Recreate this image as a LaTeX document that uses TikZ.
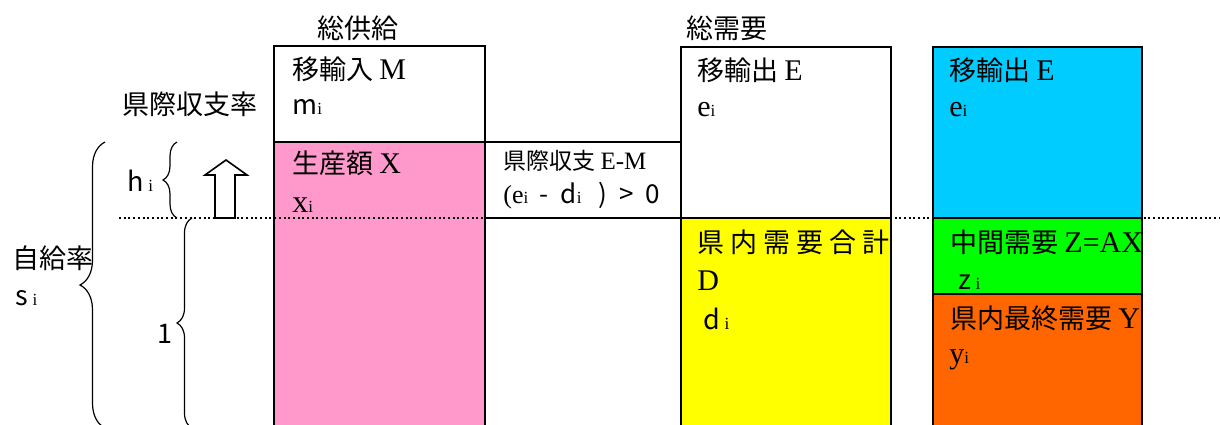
\documentclass[tikz,border=0pt]{standalone}
\usepackage{fontspec}
\setmainfont{Liberation Serif}
\newfontfamily\jp{Noto Sans CJK JP}
\usetikzlibrary{decorations.pathreplacing}

\definecolor{prodpink}{HTML}{FF99CC}
\definecolor{domyellow}{HTML}{FFFF00}
\definecolor{expcyan}{HTML}{00CCFF}
\definecolor{midgreen}{HTML}{00FF00}
\definecolor{finorange}{HTML}{FF6600}

\newcommand{\sub}[1]{{\rmfamily\fontsize{8.5}{9}\selectfont #1}}
\newcommand{\lat}[1]{{\rmfamily\fontsize{15}{16}\selectfont #1}}

\tikzset{
  lbl/.style={anchor=west, inner sep=0pt, font=\jp\fontsize{13.5}{16}\selectfont},
  smalllbl/.style={anchor=west, inner sep=0pt, font=\jp\fontsize{11.5}{14}\selectfont},
  head/.style={inner sep=0pt, font=\jp\fontsize{13.5}{16}\selectfont},
  col/.style={draw=black, line width=0.8pt},
  curly/.style={decorate, decoration={brace, amplitude=#1}, line width=0.6pt},
  guide/.style={line width=1pt, dash pattern=on 1pt off 1.35pt},
}

\begin{document}
\begin{tikzpicture}[x=0.5pt, y=-0.5pt]
  \clip (0,0) rectangle (1220,424);
  % columns
  \path[col, fill=prodpink] (274,142) rectangle (485,430);
  \path[col, fill=white] (274,46) rectangle (485,142);
  \path[col, fill=white] (485,142) rectangle (681,218);
  \path[col, fill=white] (681,47) rectangle (891,218);
  \path[col, fill=domyellow] (681,218) rectangle (891,430);
  \path[col, fill=expcyan] (933,47) rectangle (1142,218);
  \path[col, fill=midgreen] (933,218) rectangle (1142,294);
  \path[col, fill=finorange] (933,294) rectangle (1142,430);

  % up arrow
  \draw[line width=0.8pt, fill=white] (215,218) -- (215,175) -- (205,175)
    -- (226,160) -- (247,175) -- (235,175) -- (235,218) -- cycle;

  % dotted guide
  \coordinate (gl) at (119,218);
  \coordinate (gr) at (1220,218);
  \draw[guide] (gl) -- (gr);

  % braces
  \draw[curly=12.5pt] (105,428) -- (105,142);
  \draw[curly=7pt] (177,218) -- (177,142);
  \draw[curly=7.5pt] (192,428) -- (192,218);

  % headings
  \node[head] (supply) at (358,28) {総供給};
  \node[head] (demand) at (727,28) {総需要};

  % left labels
  \node[lbl] (rate) at (122,104) {県際収支率};
  \node[lbl] (h) at (127,181) {h\,\sub{i}};
  \node[lbl] (self) at (12,258) {自給率};
  \node[lbl] (s) at (15,298) {s\,\sub{i}};
  \node[lbl] (one) at (157,334) {1};

  % supply column
  \node[lbl] (imp) at (292,69) {移輸入 \lat{M}};
  \node[lbl] (m) at (292,107) {m\sub{i}};
  \node[lbl] (prod) at (292,163) {生産額 \lat{X}};
  \node[lbl] (x) at (292,205) {{\rmfamily\fontsize{16}{16}\selectfont x}\sub{i}};

  % balance
  \node[smalllbl] (bal) at (503,161) {県際収支 {\rmfamily\fontsize{12.5}{14}\selectfont E-M}};
  \node[smalllbl, font=\jp\fontsize{13}{14}\selectfont] (diff) at (503,196)
    {{\rmfamily (e}\sub{i}\ \ -\ \ d\sub{i}\ \ \ )\ \ >\ \ 0};

  % demand column
  \node[lbl] (exp) at (697,70) {移輸出 \lat{E}};
  \node[lbl] (e) at (697,110) {\lat{e}\sub{i}};
  \node[lbl] (dom) at (697,242) {県\hspace{3pt}内\hspace{3pt}需\hspace{3pt}要\hspace{3pt}合\hspace{3pt}計};
  \node[lbl] (D) at (697,281) {\lat{D}};
  \node[lbl] (d) at (703,319) {d\,\sub{i}};

  % right column
  \node[lbl] (exp2) at (949,70) {移輸出 \lat{E}};
  \node[lbl] (e2) at (949,110) {\lat{e}\sub{i}};
  \node[lbl] (mid) at (950,242) {中間需要 \lat{Z=AX}};
  \node[lbl] (z) at (958,282) {z\,\sub{i}};
  \node[lbl] (fin) at (950,318) {県内最終需要 \lat{Y}};
  \node[lbl] (y) at (949,360) {\lat{y}\sub{i}};
\end{tikzpicture}
\end{document}
